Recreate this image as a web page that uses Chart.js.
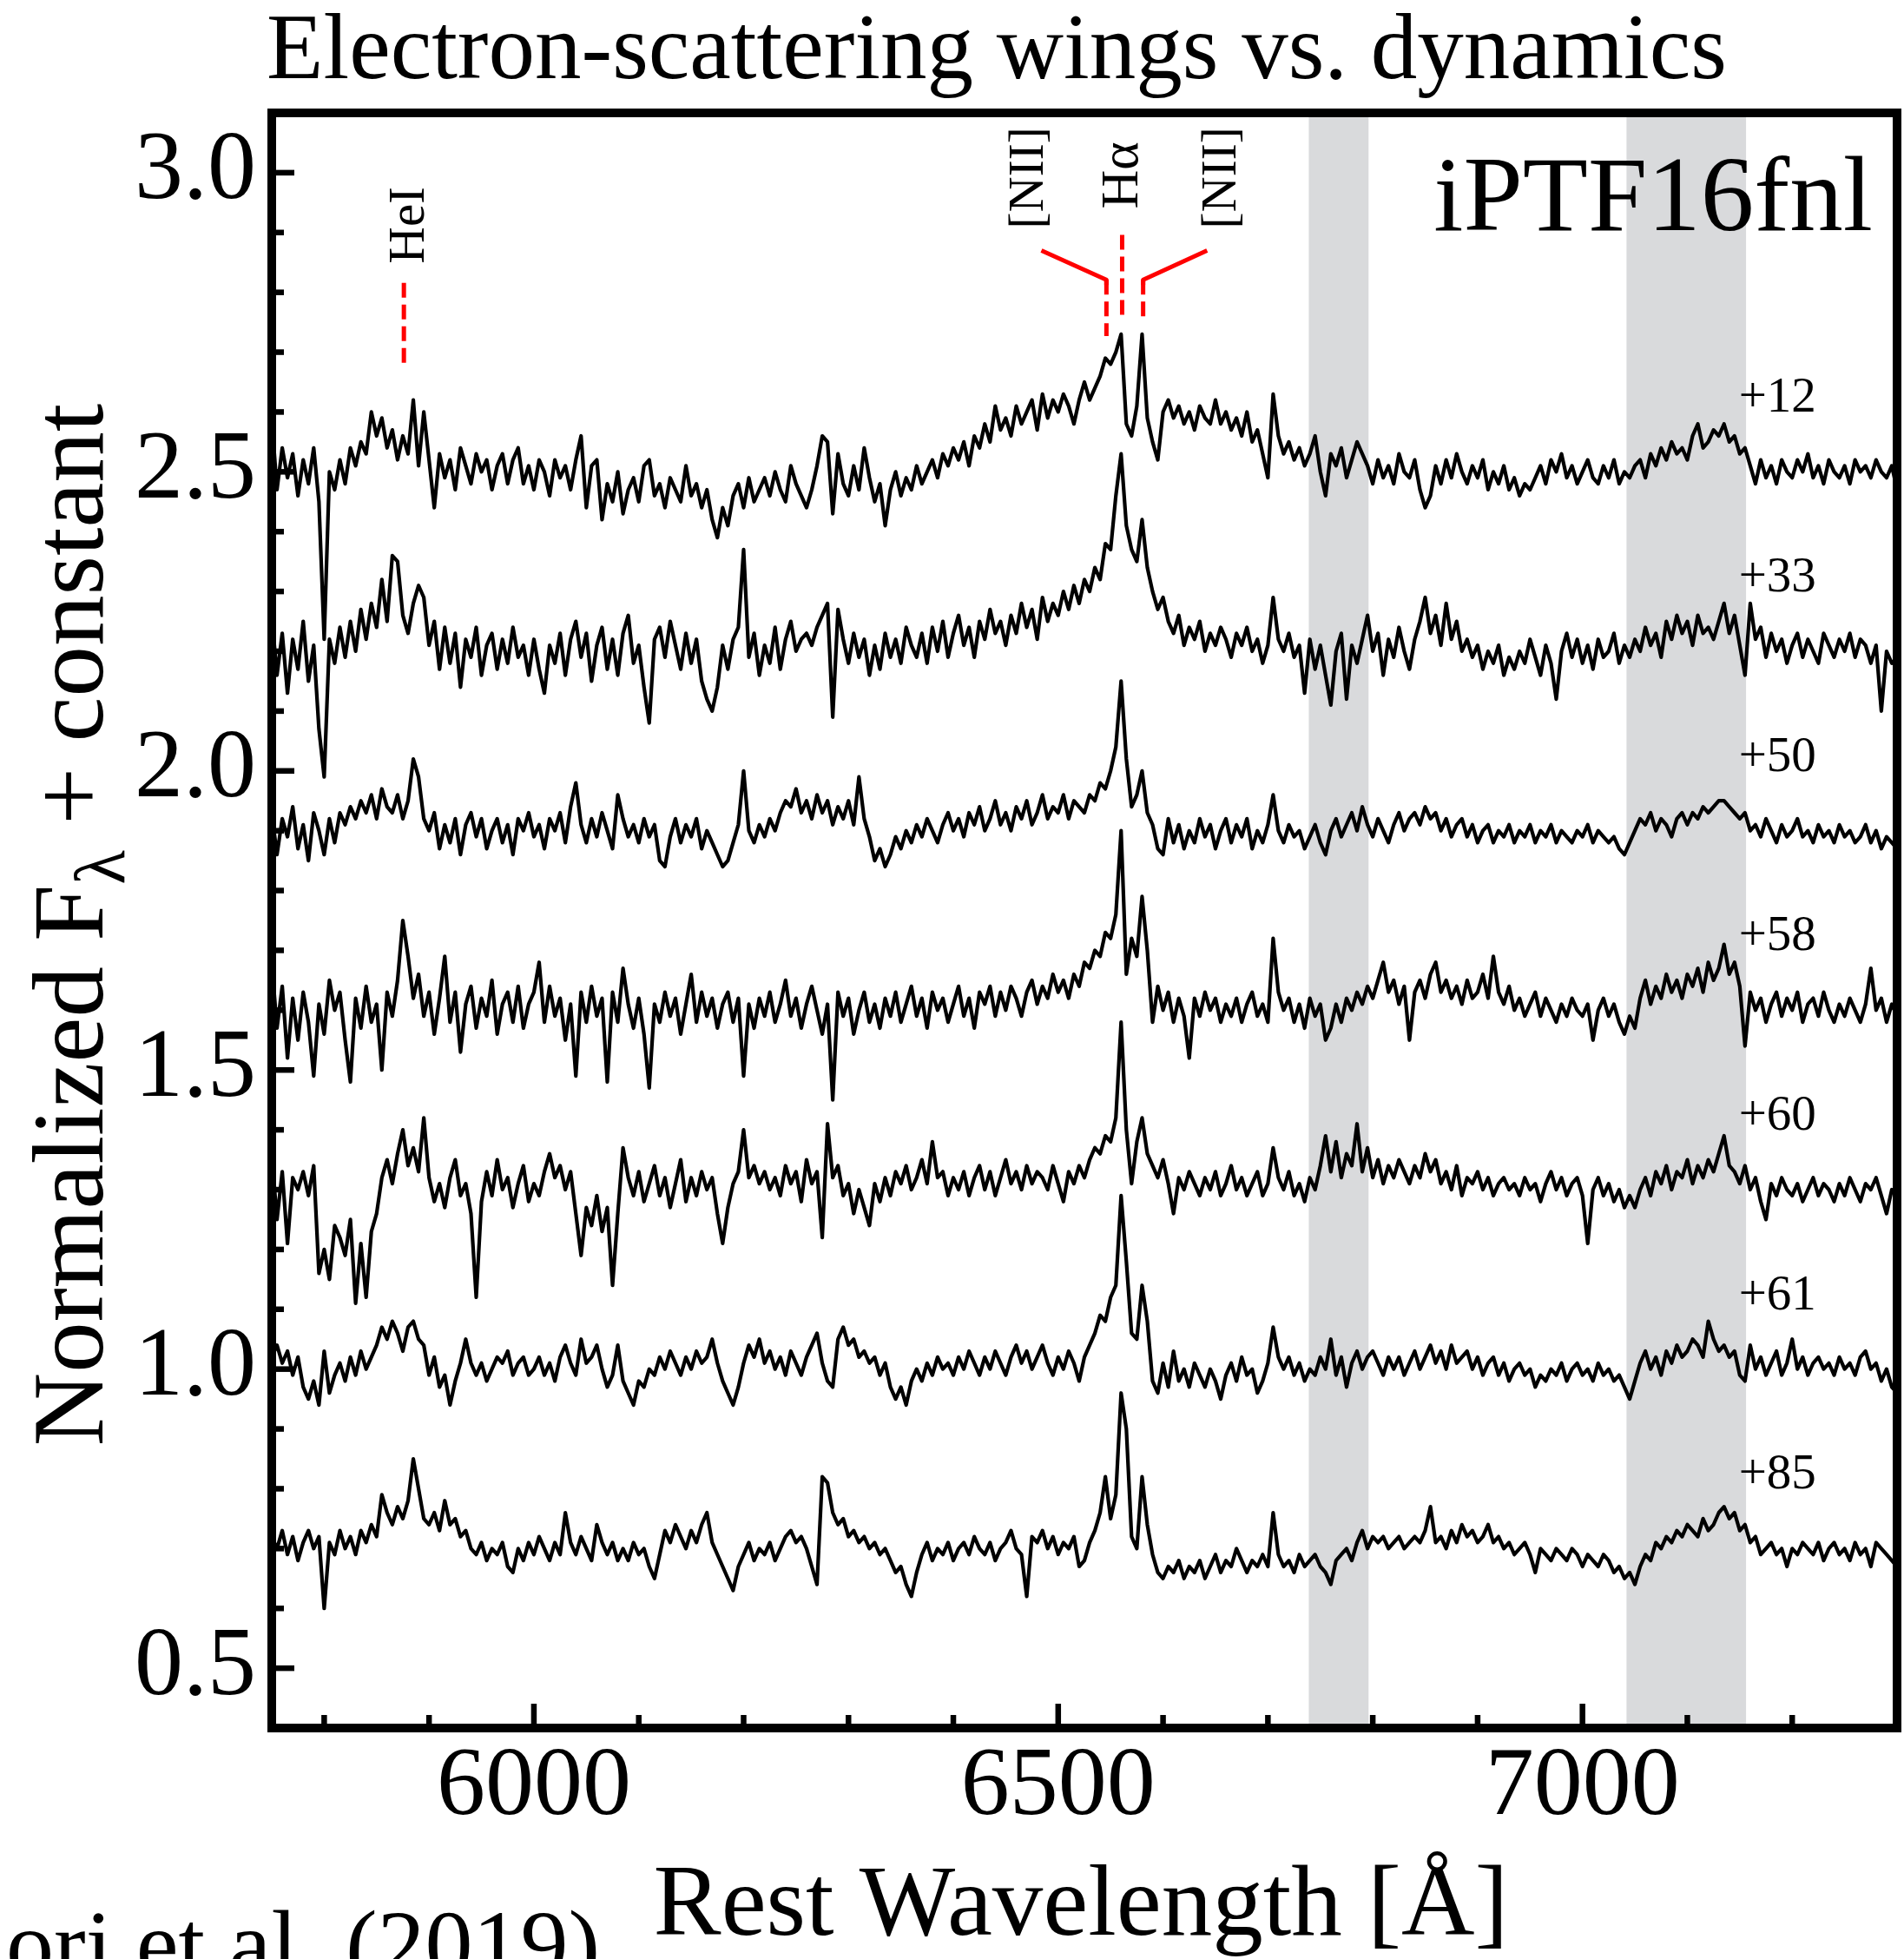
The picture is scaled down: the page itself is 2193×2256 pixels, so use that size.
<!DOCTYPE html>
<html>
<head>
<meta charset="utf-8">
<script src="https://cdn.jsdelivr.net/npm/chart.js@4.4.1/dist/chart.umd.min.js"></script>
<style>
  html, body { margin: 0; padding: 0; background: #fff; }
  #c { display: block; width: 2193px; height: 2256px; }
</style>
</head>
<body>
<canvas id="c" width="2193" height="2256"></canvas>
<script>
// rest wavelength grid [Å]
const wavelength = [
  5750,5755,5760,5765,5770,5775,5780,5785,5790,5795,
  5800,5805,5810,5815,5820,5825,5830,5835,5840,5845,
  5850,5855,5860,5865,5870,5875,5880,5885,5890,5895,
  5900,5905,5910,5915,5920,5925,5930,5935,5940,5945,
  5950,5955,5960,5965,5970,5975,5980,5985,5990,5995,
  6000,6005,6010,6015,6020,6025,6030,6035,6040,6045,
  6050,6055,6060,6065,6070,6075,6080,6085,6090,6095,
  6100,6105,6110,6115,6120,6125,6130,6135,6140,6145,
  6150,6155,6160,6165,6170,6175,6180,6185,6190,6195,
  6200,6205,6210,6215,6220,6225,6230,6235,6240,6245,
  6250,6255,6260,6265,6270,6275,6280,6285,6290,6295,
  6300,6305,6310,6315,6320,6325,6330,6335,6340,6345,
  6350,6355,6360,6365,6370,6375,6380,6385,6390,6395,
  6400,6405,6410,6415,6420,6425,6430,6435,6440,6445,
  6450,6455,6460,6465,6470,6475,6480,6485,6490,6495,
  6500,6505,6510,6515,6520,6525,6530,6535,6540,6545,
  6550,6555,6560,6565,6570,6575,6580,6585,6590,6595,
  6600,6605,6610,6615,6620,6625,6630,6635,6640,6645,
  6650,6655,6660,6665,6670,6675,6680,6685,6690,6695,
  6700,6705,6710,6715,6720,6725,6730,6735,6740,6745,
  6750,6755,6760,6765,6770,6775,6780,6785,6790,6795,
  6800,6805,6810,6815,6820,6825,6830,6835,6840,6845,
  6850,6855,6860,6865,6870,6875,6880,6885,6890,6895,
  6900,6905,6910,6915,6920,6925,6930,6935,6940,6945,
  6950,6955,6960,6965,6970,6975,6980,6985,6990,6995,
  7000,7005,7010,7015,7020,7025,7030,7035,7040,7045,
  7050,7055,7060,7065,7070,7075,7080,7085,7090,7095,
  7100,7105,7110,7115,7120,7125,7130,7135,7140,7145,
  7150,7155,7160,7165,7170,7175,7180,7185,7190,7195,
  7200,7205,7210,7215,7220,7225,7230,7235,7240,7245,
  7250,7255,7260,7265,7270,7275,7280,7285,7290,7295,
  7300
];

const phaseLabels = ['+12', '+33', '+50', '+58', '+60', '+61', '+85'];
const offsets = [2.5, 2.2, 1.9, 1.6, 1.3, 1.0, 0.7];

// flux above each spectrum's offset, in units of 0.01
const flux12 = [
  9,-3,4,-1,3,-4,2,-2,4,-5,
  -28,0,-3,2,-2,4,1,5,3,10,
  6,9,4,7,2,6,3,12,1,10,
  2,-6,3,-1,2,-3,4,1,-2,3,
  0,2,-3,1,3,-2,2,4,-2,1,
  -3,2,0,-4,2,-1,1,-3,2,6,
  -6,1,2,-8,-2,-5,0,-7,-3,-1,
  -5,1,2,-4,-2,-6,-1,-3,-5,1,
  -4,-2,-6,-3,-8,-11,-6,-9,-4,-2,
  -6,-1,-5,-3,-1,-4,0,-3,-5,1,
  -2,-4,-6,-3,1,6,5,-7,3,-2,
  -4,1,-3,4,-1,-5,-2,-9,-3,0,
  -4,-1,-3,1,-2,0,2,-1,3,1,
  4,2,5,1,6,4,8,5,11,7,
  9,6,11,8,10,12,7,13,9,12,
  10,13,11,8,12,15,12,14,16,19,
  18,20,23,8,6,11,23,9,5,2,
  10,12,9,11,8,10,7,11,9,8,
  12,8,10,7,9,6,10,5,7,3,
  -1,13,6,3,5,2,4,1,3,6,
  0,-4,3,1,4,-1,2,5,3,1,
  -2,2,-1,1,-2,3,0,-1,2,-3,
  -6,-4,1,-2,2,-1,3,0,-2,1,
  -1,2,-3,0,-2,1,-3,-1,-4,-2,
  -3,-1,1,-2,2,0,3,-1,1,-2,
  0,2,-1,-2,1,-1,2,-2,0,-1,
  1,2,-1,3,1,4,2,5,3,4,
  2,6,8,4,5,7,6,8,5,6,
  3,4,1,-2,2,-1,1,-2,2,0,
  -1,2,0,3,-1,1,-2,2,0,-1,
  1,-2,2,0,1,-1,2,0,-1,1,
  -3
];
const flux33 = [
  6,-4,3,-7,2,-3,5,-5,1,-13,
  -21,2,-2,4,-1,5,0,7,2,8,
  4,12,5,16,15,6,3,8,11,9,
  1,5,-3,4,-2,3,-6,2,-1,4,
  -4,1,3,-3,2,-2,4,-1,1,-4,
  2,-3,-7,1,-2,3,-4,2,5,-1,
  3,-5,1,4,-3,2,-4,3,6,-2,
  1,-6,-12,2,4,-1,5,1,-3,3,
  -2,2,-5,-8,-10,-6,1,-3,2,4,
  17,-1,3,-4,1,-2,4,-3,2,5,
  0,2,3,1,4,6,8,-11,7,2,
  -2,3,-1,2,-4,1,-3,3,-1,2,
  -2,4,1,-1,3,-2,4,0,5,-1,
  3,6,1,4,-1,5,2,7,3,5,
  1,6,3,8,4,7,2,9,5,8,
  6,10,7,11,8,12,10,14,12,18,
  17,26,33,21,17,15,22,14,10,7,
  9,5,3,6,1,4,2,5,0,3,
  1,4,2,-1,3,1,4,0,2,-2,
  1,9,2,0,3,-1,1,-7,2,-3,
  1,-4,-9,0,3,-8,1,-2,2,6,
  0,3,-4,2,-1,4,0,-3,2,5,
  9,3,6,1,8,2,5,0,2,-1,
  1,-3,0,-2,1,-4,-1,-3,0,-2,
  2,-1,-4,1,-2,-8,0,3,-1,2,
  -2,1,-3,2,-1,0,3,-2,1,-1,
  2,0,4,1,3,-1,5,2,6,3,
  5,1,6,3,4,2,5,8,3,6,
  1,-4,8,2,4,-1,3,0,2,-2,
  1,3,-1,2,0,-2,3,1,-1,2,
  0,3,-1,2,1,-2,1,-10,0,-2,
  -1
];
const flux50 = [
  3,-4,2,-1,4,-3,1,-5,3,0,
  -4,2,-2,3,1,4,2,5,3,6,
  2,7,4,3,6,2,5,12,9,2,
  0,3,-3,1,-2,2,-4,1,3,-1,
  2,-3,0,2,-2,1,-4,2,0,3,
  -1,1,-3,2,0,3,-2,4,8,1,
  -2,2,-1,3,0,-3,6,2,-1,1,
  -2,2,-1,1,-5,-6,-1,2,-2,1,
  -1,2,-3,0,-2,-4,-6,-5,-2,1,
  10,0,-2,1,-1,2,0,3,5,4,
  7,3,5,2,6,3,5,1,4,2,
  5,1,9,2,-1,-5,-3,-6,-4,-1,
  -3,0,-2,1,-1,2,0,-2,1,3,
  0,2,-1,3,1,4,0,2,5,1,
  3,0,4,2,5,1,3,6,2,4,
  3,6,2,5,4,3,6,5,8,7,
  10,14,25,12,4,6,10,3,1,-3,
  -4,2,-2,1,-3,0,-2,2,-1,1,
  -3,0,2,-2,1,-1,2,-3,0,-2,
  1,6,0,-2,1,-1,0,-3,-1,1,
  -2,-4,0,2,-1,1,3,0,4,1,
  -1,2,0,-2,1,3,0,2,3,1,
  4,2,3,0,2,-1,1,2,-1,1,
  -2,0,1,-2,0,-1,1,-2,0,-1,
  1,-2,0,-1,1,-2,0,-1,-2,0,
  -1,1,-2,0,-1,-2,-1,-3,-4,-2,
  0,2,1,3,0,2,1,-1,2,3,
  1,3,2,4,3,4,5,5,4,3,
  2,3,0,1,-1,2,0,-2,1,-1,
  0,2,-1,0,-2,1,-1,0,-2,1,
  -1,0,-2,-1,1,-2,0,-3,-1,-2,
  -3
];
const flux58 = [
  8,-3,4,-8,2,-5,3,-2,-11,1,
  -4,5,0,3,-5,-12,2,-3,4,-2,
  1,-10,3,-1,5,15,9,2,6,-1,
  3,-4,2,9,-2,3,-7,1,4,-3,
  2,-1,5,-4,1,3,-2,4,-3,1,
  3,8,-2,4,-1,2,-5,1,-11,3,
  -2,4,-1,2,-12,3,-2,7,1,-3,
  2,-4,-13,1,-2,3,-1,2,-4,1,
  6,-2,3,-1,2,-3,1,3,-2,2,
  -11,1,-3,2,-1,3,-2,1,5,-1,
  2,-3,1,4,0,-4,1,-15,3,-1,
  2,-4,0,3,-2,1,-3,2,-1,3,
  -2,1,4,-1,2,-3,3,0,2,-2,
  1,4,-1,2,-3,3,1,4,-1,3,
  0,4,2,-1,3,5,1,4,2,6,
  3,5,2,6,4,8,7,10,9,13,
  12,16,30,6,12,9,19,10,-2,4,
  0,3,-2,2,-1,-8,2,-1,3,0,
  2,-2,1,-1,2,-2,1,3,-1,1,
  -2,12,3,0,2,-2,1,-3,2,-1,
  1,-5,-3,1,-2,2,0,3,1,4,
  2,5,8,3,5,1,4,-5,3,5,
  2,6,8,3,5,2,4,1,5,2,
  3,6,2,9,3,1,4,0,2,-1,
  1,3,-1,2,0,-2,1,-1,2,0,
  -1,1,-5,0,2,-1,1,-2,-4,-1,
  -3,2,5,1,4,2,6,3,5,2,
  6,4,7,3,8,5,7,11,6,8,
  4,-6,3,0,2,-2,1,3,-1,2,
  0,3,-2,1,2,-1,3,0,-2,1,
  -1,2,0,-2,1,7,0,2,-2,1,
  -1
];
const flux60 = [
  6,-5,3,-9,2,0,3,-1,4,-14,
  -10,-15,-6,-8,-11,-5,-19,-9,-18,-7,
  -4,2,5,1,6,10,4,7,3,12,
  2,-2,1,-3,2,5,-1,1,-4,-18,
  -2,3,-1,5,0,2,-3,1,4,-2,
  1,-1,3,6,2,4,0,3,-4,-11,
  -3,-6,-1,-7,-3,-16,-4,7,2,-1,
  3,-2,1,4,-1,2,-3,1,5,-2,
  2,-1,3,0,2,-4,-9,-3,1,3,
  10,2,4,1,3,0,2,-1,4,1,
  3,-2,5,1,3,-8,11,2,4,-1,
  1,-4,0,-3,-6,1,-2,2,-1,3,
  1,4,0,2,5,1,8,2,3,-1,
  2,0,3,-1,2,4,0,3,-1,2,
  5,1,3,0,4,1,3,2,0,4,
  1,-2,3,1,4,2,5,7,6,9,
  8,12,28,10,1,8,12,6,4,2,
  5,1,-4,2,0,3,1,-1,2,0,
  3,-1,1,4,0,2,-1,1,3,-1,
  1,7,2,0,3,-1,1,-2,2,0,
  4,9,3,8,2,6,4,11,3,7,
  2,5,1,4,2,5,3,1,4,2,
  6,3,5,1,3,0,4,-1,2,1,
  3,0,2,-1,1,2,0,1,-1,2,
  0,1,-2,1,3,0,2,-1,1,2,
  -1,-9,0,2,-1,1,-2,0,-3,-1,
  -3,0,2,-1,3,1,4,0,3,2,
  5,1,4,2,5,3,6,9,4,3,
  1,4,0,2,-2,-5,1,-1,2,0,
  -1,1,-2,0,2,-1,1,0,-2,1,
  -1,2,0,-2,1,0,2,-1,-4,0,
  -1
];
const flux61 = [
  2,4,1,3,-1,2,-3,-5,-2,-6,
  3,-4,-1,1,-2,2,-1,3,0,2,
  4,7,5,8,6,3,7,8,5,4,
  -1,2,-3,-1,-6,-2,1,5,1,-1,
  1,-2,0,2,1,3,-1,1,2,-1,
  0,2,-1,1,-2,2,4,1,-1,5,
  1,2,4,0,-3,-1,4,-2,-4,-6,
  -2,-3,0,-1,2,0,3,1,-1,2,
  0,3,1,2,5,1,-2,-4,-6,-3,
  1,4,2,5,1,3,0,2,-1,3,
  1,-1,2,4,6,1,-2,-3,5,7,
  4,5,2,3,1,2,-1,1,-3,-5,
  -3,-6,-2,0,-2,1,-1,2,0,1,
  -1,2,0,3,1,-1,2,0,3,1,
  -1,2,4,1,3,0,2,4,1,-1,
  2,0,3,1,-2,2,4,6,9,8,
  12,14,29,18,6,5,14,8,-2,-4,
  1,-3,3,-2,0,-3,1,-1,-3,0,
  -2,-5,-1,1,-2,2,-1,0,-4,-2,
  1,7,2,0,2,-1,1,-2,0,-1,
  2,0,5,-1,2,-3,1,3,0,2,
  3,1,-1,2,0,2,-1,1,3,0,
  2,4,1,3,0,4,1,2,3,0,
  2,-1,1,2,-1,1,-2,0,1,-1,
  0,-3,-1,-2,0,-1,1,-2,0,1,
  -1,0,-2,1,-1,0,-2,-1,-3,-5,
  -2,1,3,0,2,-1,3,1,4,2,
  3,5,4,2,8,5,3,4,2,3,
  -1,-2,4,0,2,-1,1,3,-1,1,
  5,0,2,-1,1,2,0,1,-1,2,
  0,1,-1,2,3,0,1,-2,0,-3,
  -4
];
const flux85 = [
  2,0,3,-1,2,-2,1,3,0,2,
  -10,1,-1,3,0,2,-1,3,1,4,
  2,9,6,4,7,5,8,15,10,5,
  4,6,3,8,4,5,2,3,0,-1,
  1,-2,0,-1,1,-3,-4,0,-2,1,
  -1,2,0,-2,1,-1,6,1,-1,2,
  0,-2,4,1,-1,1,-2,0,-2,1,
  -1,0,-3,-5,-1,3,1,4,2,0,
  3,1,4,6,1,-1,-3,-5,-7,-3,
  -1,1,-2,0,-1,1,-2,0,2,3,
  1,2,0,-3,-6,12,11,6,4,5,
  2,3,1,2,0,1,-1,0,-2,-4,
  -3,-6,-8,-4,-1,1,-2,0,-1,1,
  -2,0,1,-1,2,0,-1,1,-2,0,
  1,3,0,-1,-8,2,1,3,0,2,
  -1,1,0,2,-3,-2,1,3,6,12,
  5,9,26,20,2,0,12,4,-1,-4,
  -5,-3,-4,-2,-5,-3,-4,-2,-5,-3,
  -1,-4,-2,-3,0,-2,-4,-2,-3,-1,
  -3,6,-1,-3,-2,-4,-1,-3,-2,-1,
  -3,-4,-6,-2,-1,0,-2,1,3,0,
  2,1,2,0,1,2,0,1,2,1,
  3,7,1,2,0,3,1,4,2,3,
  1,2,4,1,2,0,1,-1,0,1,
  -1,-4,0,-1,-2,0,-1,-2,0,-1,
  -3,-1,-2,-3,-1,-2,-4,-3,-5,-4,
  -6,-3,-1,-2,1,0,2,1,3,2,
  4,3,2,5,3,4,6,7,5,6,
  3,4,1,2,-1,0,1,-1,0,-3,
  0,-1,1,0,-1,1,-2,0,1,-1,
  0,-2,1,-1,0,-3,1,0,-1,-2,
  -3
];
const fluxes = [flux12, flux33, flux50, flux58, flux60, flux61, flux85];

const xTicks = [6000, 6500, 7000];
const yTicks = [0.5, 1.0, 1.5, 2.0, 2.5, 3.0];
const shadedBands = [[6739, 6796], [7042, 7156]];
const lineNames = ['HeI', '[NII]', 'H\u03b1', '[NII]'];
const lineWaves = [5876, 6546, 6561, 6581];

const SERIF = '"Liberation Serif", "Times New Roman", serif';
const font = size => `${size}px ${SERIF}`;

function upText(ctx, text, cx, bottomY, size){
  // text rotated to read bottom-to-top, centred horizontally on cx
  ctx.save();
  ctx.font = font(size);
  ctx.translate(cx + size * 0.33, bottomY);
  ctx.rotate(-Math.PI / 2);
  ctx.textAlign = 'left';
  ctx.textBaseline = 'alphabetic';
  ctx.fillText(text, 0, 0);
  ctx.restore();
}

function vline(ctx, x, y0, y1){
  ctx.beginPath(); ctx.moveTo(x, y0); ctx.lineTo(x, y1); ctx.stroke();
}

const decor = {
  id: 'decor',
  beforeDatasetsDraw(chart){
    const {ctx, chartArea: a, scales: {x}} = chart;
    ctx.save();
    ctx.fillStyle = '#d9dadc';
    shadedBands.forEach(([w0, w1]) => {
      const x0 = x.getPixelForValue(w0), x1 = x.getPixelForValue(w1);
      ctx.fillRect(x0, a.top, x1 - x0, a.bottom - a.top);
    });
    ctx.restore();
  },
  afterDatasetsDraw(chart){
    const {ctx, chartArea: a, scales: {x, y}} = chart;
    ctx.save();

    // frame
    ctx.strokeStyle = '#000';
    ctx.lineWidth = 10;
    ctx.strokeRect(a.left, a.top, a.right - a.left, a.bottom - a.top);

    // inward ticks
    ctx.lineWidth = 6.5;
    ctx.lineCap = 'butt';
    for(let k = 5; k <= 30; k++){
      const py = y.getPixelForValue(k / 10);
      const len = k % 5 === 0 ? 26 : 14;
      ctx.beginPath(); ctx.moveTo(a.left, py); ctx.lineTo(a.left + len, py); ctx.stroke();
    }
    for(let w = 5800; w <= 7200; w += 100){
      const px = x.getPixelForValue(w);
      const len = w % 500 === 0 ? 28 : 15;
      ctx.beginPath(); ctx.moveTo(px, a.bottom); ctx.lineTo(px, a.bottom - len); ctx.stroke();
    }

    // line identifications
    ctx.strokeStyle = '#ff0000';
    ctx.lineWidth = 5;
    const [heX, n1X, haX, n2X] = lineWaves.map(w => x.getPixelForValue(w));
    ctx.setLineDash([17, 8]);
    vline(ctx, heX, y.getPixelForValue(2.816), y.getPixelForValue(2.678));
    vline(ctx, haX, y.getPixelForValue(2.896), y.getPixelForValue(2.758));
    vline(ctx, n1X, y.getPixelForValue(2.821), y.getPixelForValue(2.727));
    vline(ctx, n2X, y.getPixelForValue(2.821), y.getPixelForValue(2.758));
    ctx.setLineDash([]);
    const diagTop = y.getPixelForValue(2.870), diagLow = y.getPixelForValue(2.821);
    const n1Far = x.getPixelForValue(6484), n2Far = x.getPixelForValue(6642);
    ctx.lineJoin = 'round';
    ctx.beginPath(); ctx.moveTo(n1Far, diagTop); ctx.lineTo(n1X, diagLow); ctx.lineTo(n1X, diagLow + 6); ctx.stroke();
    ctx.beginPath(); ctx.moveTo(n2Far, diagTop); ctx.lineTo(n2X, diagLow); ctx.lineTo(n2X, diagLow + 6); ctx.stroke();

    ctx.fillStyle = '#000';
    upText(ctx, lineNames[0], heX + 3, y.getPixelForValue(2.816) - 22, 59);
    upText(ctx, lineNames[1], n1Far - 17, diagTop - 25, 57);
    upText(ctx, lineNames[2], haX - 3, y.getPixelForValue(2.896) - 30, 62);
    upText(ctx, lineNames[3], n2Far + 14, diagTop - 25, 57);

    // phase labels
    ctx.font = font(57);
    ctx.textAlign = 'left';
    ctx.textBaseline = 'alphabetic';
    phaseLabels.forEach((p, k) => {
      ctx.fillText(p, x.getPixelForValue(7149), y.getPixelForValue(offsets[k] + 0.1));
    });

    // object name
    ctx.font = font(123);
    ctx.textAlign = 'right';
    ctx.fillText('iPTF16fnl', a.right - 28, a.top + 135);
    ctx.restore();
  },
  afterDraw(chart){
    const {ctx, chartArea: a} = chart;
    ctx.save();
    ctx.fillStyle = '#000';
    ctx.textBaseline = 'alphabetic';

    ctx.font = font(107);
    ctx.textAlign = 'center';
    ctx.fillText('Electron-scattering wings vs. dynamics', 1148, 90);

    ctx.font = font(117);
    ctx.fillText('Rest Wavelength [\u00c5]', 1245, 2228);

    ctx.font = font(110);
    ctx.textAlign = 'left';
    const lead = ctx.measureText('On').width;
    ctx.fillText('Onori et al. (2019)', 7 - lead, 2276);

    // y title with subscript lambda
    const parts = [['Normalized F', 117, 0], ['\u03bb', 82, 25], [' + constant', 117, 0]];
    let total = 0;
    parts.forEach(([t, s]) => { ctx.font = font(s); total += ctx.measureText(t).width; });
    ctx.translate(118, (a.top + a.bottom) / 2 + 5);
    ctx.rotate(-Math.PI / 2);
    let cx = -total / 2;
    parts.forEach(([t, s, dy]) => {
      ctx.font = font(s);
      ctx.fillText(t, cx, dy);
      cx += ctx.measureText(t).width;
    });
    ctx.restore();
  }
};

new Chart(document.getElementById('c'), {
  type: 'line',
  data: {
    datasets: fluxes.map((f, k) => ({
      label: phaseLabels[k],
      data: wavelength.filter((w, i) => f[i] !== undefined)
                      .map((w, i) => ({x: w, y: offsets[k] + f[i] / 100})),
      borderColor: '#000',
      borderWidth: 4.2,
      borderJoinStyle: 'round',
      borderCapStyle: 'round',
      pointRadius: 0,
      tension: 0,
      fill: false
    }))
  },
  options: {
    responsive: false,
    animation: false,
    devicePixelRatio: 1,
    layout: {padding: {top: 130, right: 8, left: 0, bottom: 0}},
    plugins: {legend: {display: false}, tooltip: {enabled: false}, title: {display: false}},
    scales: {
      x: {
        type: 'linear', min: 5750, max: 7300,
        grid: {display: false, drawTicks: false},
        border: {display: false},
        afterBuildTicks: s => { s.ticks = xTicks.map(v => ({value: v})); },
        afterFit: s => { s.height = 266; },
        ticks: {font: {family: SERIF, size: 112}, color: '#000', padding: 2, maxRotation: 0, autoSkip: false,
                callback: v => String(v)}
      },
      y: {
        type: 'linear', min: 0.4, max: 3.1,
        grid: {display: false, drawTicks: false},
        border: {display: false},
        afterBuildTicks: s => { s.ticks = yTicks.map(v => ({value: v})); },
        afterFit: s => { s.width = 313; },
        ticks: {font: {family: SERIF, size: 112}, color: '#000', padding: 18, autoSkip: false,
                callback: v => Number(v).toFixed(1)}
      }
    }
  },
  plugins: [decor]
});
</script>
</body>
</html>
